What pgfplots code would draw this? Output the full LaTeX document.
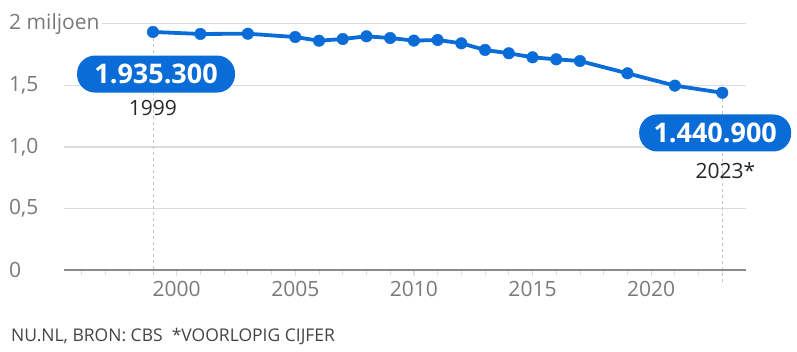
\documentclass[border=0pt]{standalone}
\usepackage{pgfplots}
\pgfplotsset{compat=1.18}
\usepackage{fontspec}
\setmainfont{Open Sans}
\definecolor{nublue}{HTML}{0A6CD7}
\definecolor{tickgray}{HTML}{7A7A7A}
\definecolor{gridgray}{HTML}{DCDCDC}
\definecolor{axisgray}{HTML}{8A8A8A}
\definecolor{footgray}{HTML}{444444}
\begin{document}
\begin{tikzpicture}[x=1pt,y=1pt]
\path[use as bounding box] (0,0) rectangle (797,351);
\begin{axis}[
  at={(64pt,81pt)}, anchor=south west,
  scale only axis, width=682pt, height=246pt,
  xmin=1995.25, xmax=2024, ymin=0, ymax=2,
  clip=false,
  axis x line*=bottom, axis y line*=left,
  y axis line style={draw=none},
  x axis line style={gridgray, line width=0.8pt},
  xtick={2000,2005,2010,2015,2020},
  minor xtick={1996,...,2023},
  tick align=outside,
  major tick length=6pt, minor tick length=5pt,
  tick style={draw=gridgray, line width=0.8pt},
  minor tick style={draw=gridgray, line width=0.8pt},
  ytick style={draw=none},
  xticklabel style={font=\fontsize{21}{21}\selectfont, text=tickgray, yshift=-2pt,
    /pgf/number format/1000 sep={}, /pgf/number format/assume math mode=true},
  ytick={0,0.5,1,1.5,2},
  yticklabels={0,{0,5},{1,0},{1,5},2 miljoen},
  yticklabel style={font=\fontsize{21}{21}\selectfont, text=tickgray, anchor=west,
    xshift=-52pt, fill=white, inner xsep=3pt},
  ymajorgrids, grid style={gridgray, line width=1pt},
]
\draw[gridgray!90!black, dashed, line width=0.8pt] (axis cs:1999,1.935) -- (axis cs:1999,-0.057);
\draw[gridgray!90!black, dashed, line width=0.8pt] (axis cs:2023,1.441) -- (axis cs:2023,-0.097);
\draw[axisgray, line width=1.6pt] (axis cs:1995.25,0) -- (axis cs:2024,0);
\addplot[nublue, line width=3.8pt, mark=*, mark size=5.8pt, mark options={solid, fill=nublue, draw=nublue, line width=0.4pt}]
coordinates {
(1999,1.9353) (2001,1.919) (2003,1.921) (2005,1.894) (2006,1.864) (2007,1.878)
(2008,1.900) (2009,1.886) (2010,1.865) (2011,1.870) (2012,1.843) (2013,1.789)
(2014,1.762) (2015,1.729) (2016,1.713) (2017,1.699) (2019,1.599) (2021,1.499)
(2023,1.4409)
};
\node[fill=nublue, text=white, rounded corners=18pt, minimum width=158pt, minimum height=37pt,
  inner sep=0pt, font=\fontsize{27}{27}\selectfont\bfseries] at (axis cs:1999.13,1.593) {1.935.300};
\node[text=black!85, font=\fontsize{21}{21}\selectfont] at (axis cs:1999,1.317) {1999};
\node[fill=nublue, text=white, rounded corners=18pt, minimum width=152pt, minimum height=37pt,
  inner sep=0pt, font=\fontsize{27}{27}\selectfont\bfseries] at (axis cs:2022.7,1.114) {1.440.900};
\node[text=black!85, font=\fontsize{21}{21}\selectfont] at (axis cs:2023.13,0.805) {2023*};
\end{axis}
\node[anchor=west, text=footgray, font=\fontsize{17.5}{17.5}\selectfont, inner sep=0pt] at (11pt,15pt) {NU.NL, BRON: CBS\ \ *VOORLOPIG CIJFER};
\end{tikzpicture}
\end{document}
